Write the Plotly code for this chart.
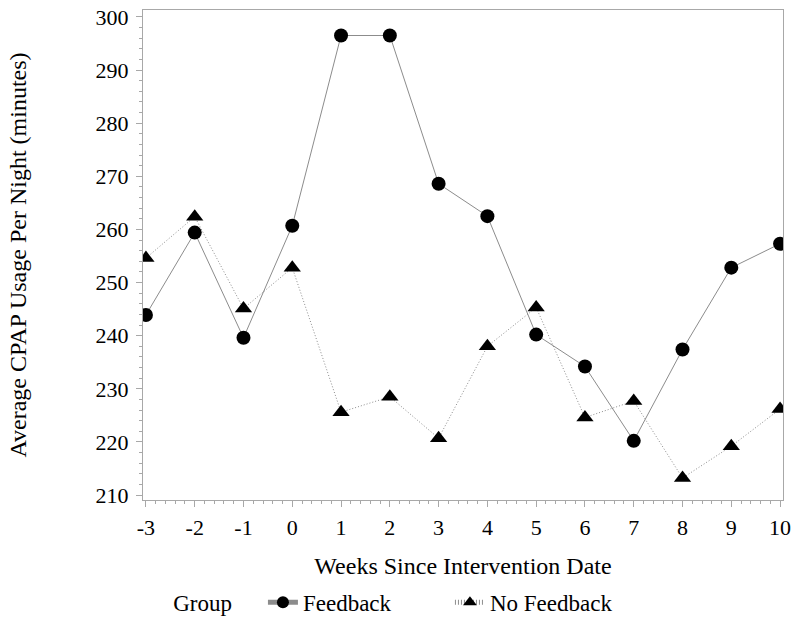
import plotly.graph_objects as go

weeks = [-3, -2, -1, 0, 1, 2, 3, 4, 5, 6, 7, 8, 9, 10]
feedback = [243.9, 259.4, 239.6, 260.7, 296.5, 296.5, 268.6, 262.5, 240.2, 234.2, 220.2, 237.4, 252.8, 257.3]
no_feedback = [254.6, 262.4, 245.1, 252.8, 225.6, 228.5, 220.7, 238.0, 245.3, 224.6, 227.7, 213.2, 219.2, 226.2]
x_ticks = list(range(-3, 11))
y_ticks = list(range(210, 301, 10))

FONT = "Liberation Serif"
GRAY = "#a8a8a8"
LINE = "#8c8c8c"

fig = go.Figure()
fig.add_trace(go.Scatter(
    x=weeks, y=feedback, name="Feedback", mode="lines+markers",
    line=dict(color=LINE, width=1, dash="solid"),
    marker=dict(symbol="circle", size=14, color="black"),
))
fig.add_trace(go.Scatter(
    x=weeks, y=no_feedback, name="No Feedback", mode="lines+markers",
    line=dict(color=LINE, width=1, dash="1px,2px"),
    marker=dict(symbol="triangle-up", size=15, color="black"),
))

fig.update_layout(
    width=800, height=634, autosize=False,
    margin=dict(l=143, r=17, t=10, b=126),
    paper_bgcolor="white", plot_bgcolor="white",
    font=dict(family=FONT, size=22, color="black"),
    showlegend=True,
    legend=dict(
        orientation="h", x=0.044, xanchor="left", y=-0.209, yanchor="middle",
        title=dict(text="Group    ", font=dict(family=FONT, size=23)),
        font=dict(family=FONT, size=23),
        itemsizing="constant", entrywidth=142, entrywidthmode="pixels",
        bgcolor="rgba(0,0,0,0)",
    ),
)
fig.update_xaxes(
    automargin=False,
    range=[-3.06, 10.06], tickvals=x_ticks, ticktext=[str(v) for v in x_ticks],
    showgrid=False, zeroline=False, showline=True, linecolor=GRAY, linewidth=1, mirror=True,
    ticks="outside", ticklen=6, tickcolor=GRAY, tickwidth=1, ticklabelstandoff=2,
    minor=dict(dtick=0.2, tick0=-3, ticks="outside", ticklen=3, tickcolor=GRAY, showgrid=False),
    title=dict(text="Weeks Since Intervention Date", font=dict(family=FONT, size=24), standoff=17),
    tickfont=dict(family=FONT, size=22),
)
fig.update_yaxes(
    automargin=False,
    range=[209.07, 301.3], tickvals=y_ticks, ticktext=[str(v) for v in y_ticks],
    showgrid=False, zeroline=False, showline=True, linecolor=GRAY, linewidth=1, mirror=True,
    ticks="outside", ticklen=6, tickcolor=GRAY, tickwidth=1, ticklabelstandoff=3,
    minor=dict(dtick=2, tick0=210, ticks="outside", ticklen=3, tickcolor=GRAY, showgrid=False),
    title=dict(text="Average CPAP Usage Per Night (minutes)", font=dict(family=FONT, size=24), standoff=62),
    tickfont=dict(family=FONT, size=22),
)

fig.write_html(
    "out.html",
    config={"displayModeBar": False, "responsive": False},
    default_width="800px", default_height="634px",
    post_script="document.body.style.margin='0';document.body.style.overflow='hidden';",
)
